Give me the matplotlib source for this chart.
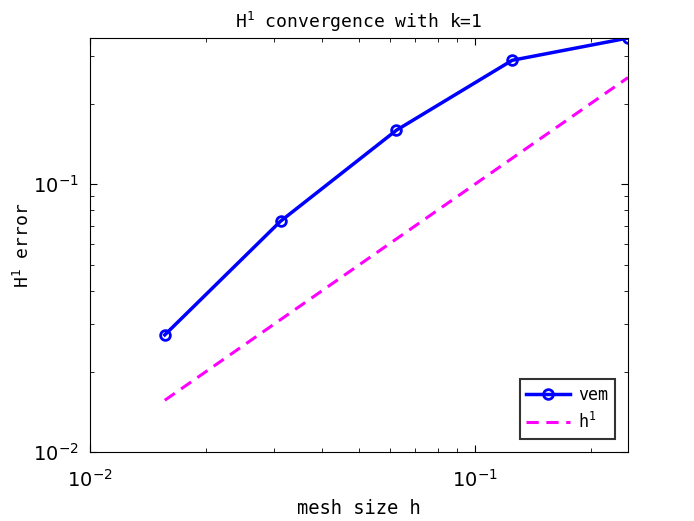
import numpy as np
import matplotlib
matplotlib.use('agg')
import matplotlib.pyplot as plt

matplotlib.rc('font', family='DejaVu Sans Mono', size=11)
matplotlib.rc('mathtext', fontset='dejavusans')

# Data
h = [1 / 64, 1 / 32, 1 / 16, 1 / 8, 1 / 4]
vem_err = [0.0274, 0.0728, 0.159, 0.290, 0.351]
ref_h1 = [1 / 64, 1 / 32, 1 / 16, 1 / 8, 1 / 4]  # h^1

fig = plt.figure(figsize=(6.94, 5.21), dpi=100)
ax = fig.add_axes([0.13, 0.132, 0.775, 0.795])

ax.loglog(h, vem_err, '-o', color='#0000ff', lw=2.5, ms=7, mfc='none', mew=2, label='vem')
ax.loglog(h, ref_h1, '--', color='#ff00ff', lw=2.2, dashes=(4, 2.5), label='$\\mathregular{h^1}$')

ax.set_xlim(1e-2, 0.25)
ax.set_ylim(1e-2, vem_err[-1])
ax.tick_params(which='both', direction='in', top=True, right=True, labelsize=14)
ax.tick_params(which='major', length=5)
ax.tick_params(which='minor', length=3)
ax.tick_params(axis='x', which='major', pad=12)
ax.tick_params(axis='y', which='major', pad=8)
for lab in ax.get_xticklabels() + ax.get_yticklabels():
    lab.set_family('DejaVu Sans')
for s in ax.spines.values():
    s.set_linewidth(0.8)

ax.set_title('$\\mathregular{H^1}$ convergence with k=1', fontsize=13, pad=7)
ax.set_xlabel('mesh size h', fontsize=13.5, labelpad=6)
ax.set_ylabel('$\\mathregular{H^1}$ error', fontsize=13, labelpad=0)

leg = ax.legend(loc='lower right', fancybox=False, edgecolor='#333333', framealpha=1,
                fontsize=12, handlelength=2.6, handletextpad=0.5, borderaxespad=0.8)
leg.get_frame().set_linewidth(1.5)

plt.savefig('out.png')
